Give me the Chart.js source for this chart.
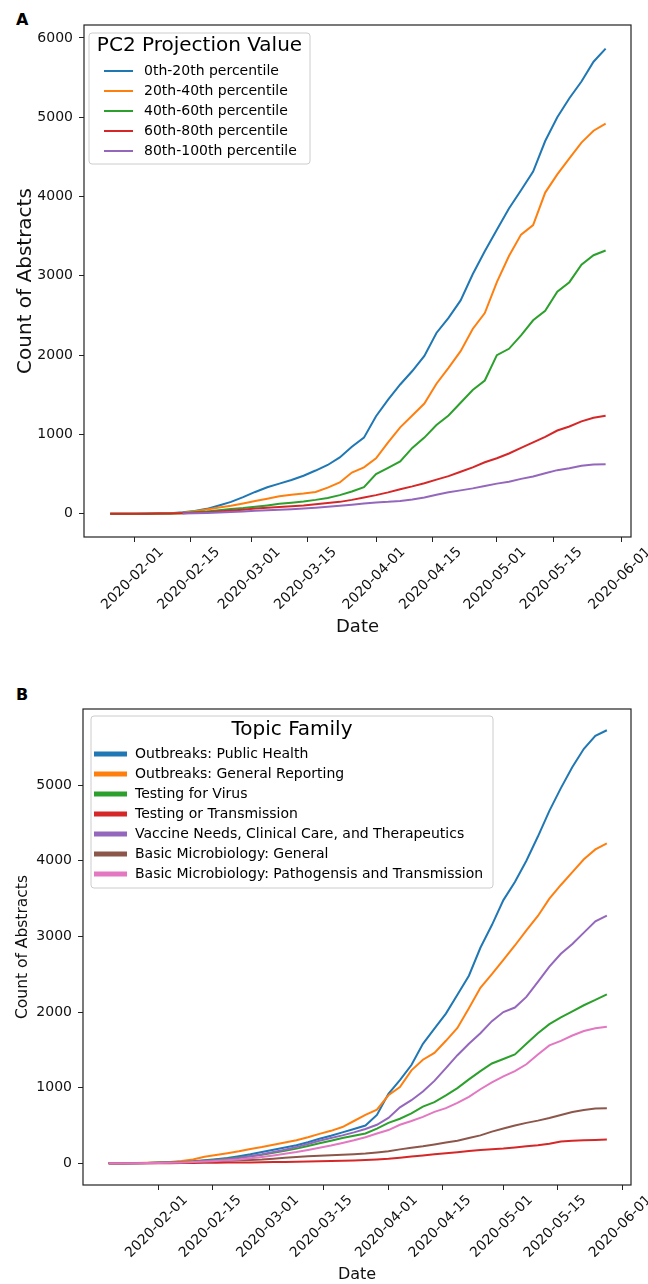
<!DOCTYPE html>
<html>
<head>
<meta charset="utf-8">
<script src="https://cdn.jsdelivr.net/npm/chart.js@4.4.0/dist/chart.umd.min.js"></script>
<style>
  body { margin: 0; background: #fff; font-family: "DejaVu Sans", sans-serif; }
  #wrap { position: relative; width: 648px; height: 1284px; }
  canvas { position: absolute; left: 0; }
  #chartA { top: 0; }
  #chartB { top: 650px; }
  .panel { position: absolute; font-weight: bold; font-size: 16px; color: #000; }
</style>
</head>
<body>
<div id="wrap">
  <div class="panel" style="left:16px; top:10px;">A</div>
  <div class="panel" style="left:16px; top:685px;">B</div>
  <canvas id="chartA" width="648" height="650"></canvas>
  <canvas id="chartB" width="648" height="634"></canvas>
</div>
<script>
// day numbers counted from 2020-01-01 (= 0)
const tickLabels = ['2020-02-01', '2020-02-15', '2020-03-01', '2020-03-15', '2020-04-01',
  '2020-04-15', '2020-05-01', '2020-05-15', '2020-06-01'];
const yTicksA = [0, 1000, 2000, 3000, 4000, 5000, 6000];
const yTicksB = [0, 1000, 2000, 3000, 4000, 5000];

// Panel A: PC2 projection value groups
const legendTitleA = 'PC2 Projection Value';
const labelsA = ['0th-20th percentile', '20th-40th percentile', '40th-60th percentile',
  '60th-80th percentile', '80th-100th percentile'];
const daysA = [25, 28, 31, 34, 37, 40, 43, 46, 49, 52, 55, 58, 61, 64, 67, 70, 73, 76, 79, 82, 85,
  88, 91, 94, 97, 100, 103, 106, 109, 112, 115, 118, 121, 124, 127, 130, 133, 136, 139, 142, 145, 148];
const p0to20 = [0, 0, 0, 2, 4, 8, 18, 35, 62, 105, 150, 210, 275, 335, 380, 425, 480, 545, 615, 710, 845,
  960, 1230, 1440, 1630, 1800, 1990, 2280, 2470, 2690, 3020, 3310, 3580, 3850, 4080, 4315, 4700, 5000, 5240, 5450, 5700, 5865];
const p20to40 = [0, 0, 0, 1, 3, 6, 14, 32, 55, 78, 100, 130, 160, 190, 220, 240, 255, 275, 330, 395, 520,
  585, 700, 900, 1090, 1240, 1390, 1640, 1840, 2050, 2330, 2530, 2920, 3250, 3520, 3640, 4050, 4280, 4480, 4680, 4830, 4920];
const p40to60 = [0, 0, 0, 1, 2, 4, 8, 18, 28, 45, 60, 72, 88, 105, 125, 140, 155, 175, 200, 235, 280,
  335, 500, 580, 660, 830, 960, 1120, 1240, 1400, 1560, 1680, 2000, 2080, 2250, 2440, 2560, 2800, 2920, 3140, 3260, 3320];
const p60to80 = [0, 0, 0, 1, 2, 4, 8, 14, 20, 30, 40, 52, 65, 76, 86, 95, 105, 120, 135, 150, 175,
  205, 235, 270, 310, 345, 385, 430, 475, 530, 585, 650, 700, 760, 830, 900, 970, 1050, 1100, 1165, 1210, 1235];
const p80to100 = [null, null, null, null, null, null, 2, 5, 9, 15, 22, 28, 38, 45, 52, 58, 65, 75, 88, 100, 115,
  130, 142, 150, 162, 180, 205, 240, 270, 295, 320, 350, 380, 405, 440, 470, 510, 550, 575, 605, 620, 625];

// Panel B: topic families
const legendTitleB = 'Topic Family';
const labelsB = ['Outbreaks: Public Health', 'Outbreaks: General Reporting', 'Testing for Virus',
  'Testing or Transmission', 'Vaccine Needs, Clinical Care, and Therapeutics',
  'Basic Microbiology: General', 'Basic Microbiology: Pathogensis and Transmission'];
const daysB = [18, 22, 25, 28, 31, 34, 37, 40, 43, 46, 49, 52, 55, 58, 61, 64, 67, 70, 73, 76, 79, 82,
  85, 88, 91, 94, 97, 100, 103, 106, 109, 112, 115, 118, 121, 124, 127, 130, 133, 136, 139, 142, 145, 148];
const publicHealth = [0, 2, 4, 6, 10, 14, 20, 28, 40, 55, 72, 95, 120, 150, 180, 210, 240, 280, 325, 365, 410, 455,
  500, 640, 920, 1100, 1300, 1580, 1780, 1980, 2230, 2480, 2850, 3150, 3480, 3720, 4000, 4320, 4660, 4960, 5240, 5480, 5650, 5725];
const generalReporting = [0, 2, 5, 8, 12, 18, 30, 50, 88, 110, 135, 160, 190, 215, 245, 275, 305, 345, 390, 430, 480, 560,
  640, 710, 900, 1010, 1230, 1370, 1460, 1620, 1790, 2050, 2320, 2500, 2690, 2880, 3080, 3270, 3500, 3680, 3850, 4020, 4150, 4230];
const testingVirus = [0, 1, 3, 5, 8, 12, 18, 26, 36, 48, 62, 78, 95, 115, 140, 165, 195, 230, 265, 300, 335, 365,
  395, 460, 535, 590, 660, 750, 810, 900, 995, 1110, 1220, 1320, 1380, 1440, 1580, 1720, 1840, 1930, 2010, 2090, 2160, 2235];
const testingTransmission = [0, 0, 1, 1, 2, 3, 4, 5, 7, 8, 10, 11, 13, 15, 17, 19, 21, 24, 27, 30, 34, 38,
  45, 52, 60, 75, 90, 105, 120, 135, 148, 162, 178, 188, 195, 210, 225, 240, 260, 290, 298, 305, 310, 315];
const vaccineCare = [0, 1, 3, 5, 8, 12, 16, 22, 30, 42, 55, 72, 95, 120, 150, 180, 215, 255, 300, 335, 370, 410,
  455, 510, 600, 740, 835, 950, 1090, 1260, 1430, 1580, 1720, 1880, 2000, 2060, 2200, 2400, 2600, 2770, 2900, 3050, 3200, 3275];
const microGeneral = [0, 1, 2, 3, 5, 8, 12, 17, 22, 28, 34, 40, 46, 52, 62, 74, 85, 93, 100, 107, 115, 122,
  130, 145, 160, 185, 205, 225, 250, 275, 300, 335, 370, 420, 460, 500, 535, 565, 600, 640, 680, 705, 725, 730];
const microPathogenesis = [0, 1, 2, 4, 6, 9, 13, 18, 24, 32, 42, 52, 68, 85, 105, 128, 150, 178, 205, 235, 270, 305,
  345, 395, 440, 510, 560, 615, 680, 730, 800, 880, 980, 1070, 1150, 1220, 1310, 1440, 1560, 1620, 1690, 1750, 1785, 1805];

const tab10 = ['#1f77b4', '#ff7f0e', '#2ca02c', '#d62728', '#9467bd', '#8c564b', '#e377c2'];
const FONT = '"DejaVu Sans", sans-serif';

function dayOf(label) {
  const [y, m, d] = label.split('-').map(Number);
  return (Date.UTC(y, m - 1, d) - Date.UTC(2020, 0, 1)) / 86400000;
}
const tickDays = tickLabels.map(dayOf);

// legend drawn by hand so it gets the framed matplotlib look
const legendBox = {
  id: 'legendBox',
  afterDatasetsDraw(chart, args, o) {
    const ctx = chart.ctx;
    ctx.save();
    ctx.beginPath();
    ctx.roundRect(o.x, o.y, o.w, o.h, 3);
    ctx.fillStyle = 'rgba(255,255,255,0.8)';
    ctx.fill();
    ctx.strokeStyle = '#cccccc';
    ctx.lineWidth = 1;
    ctx.stroke();
    ctx.fillStyle = '#000';
    ctx.textBaseline = 'middle';
    ctx.textAlign = 'center';
    ctx.font = o.titleSize + 'px ' + FONT;
    ctx.fillText(o.title, o.x + o.w / 2, o.titleY);
    ctx.textAlign = 'left';
    ctx.font = o.itemSize + 'px ' + FONT;
    chart.data.datasets.forEach((ds, i) => {
      const y = o.firstY + i * o.gap;
      ctx.strokeStyle = ds.borderColor;
      ctx.lineWidth = o.handleWidth;
      ctx.beginPath();
      ctx.moveTo(o.lineX0, y);
      ctx.lineTo(o.lineX1, y);
      ctx.stroke();
      ctx.fillText(ds.label, o.textX, y);
    });
    ctx.restore();
  }
};

const frame = {
  id: 'frame',
  afterDraw(chart) {
    const { left, top, width, height } = chart.chartArea;
    const ctx = chart.ctx;
    ctx.save();
    ctx.strokeStyle = '#222';
    ctx.lineWidth = 1.2;
    ctx.strokeRect(left, top, width, height);
    ctx.restore();
  }
};

function makeChart(id, p) {
  const datasets = p.series.map((vals, i) => ({
    label: p.labels[i],
    data: p.days.map((d, j) => ({ x: d, y: vals[j] })),
    borderColor: tab10[i],
    borderWidth: 2,
    pointRadius: 0,
    tension: 0,
    fill: false,
    order: -i
  }));
  return new Chart(document.getElementById(id), {
    type: 'line',
    data: { datasets },
    options: {
      responsive: false,
      animation: false,
      layout: { padding: p.padding },
      plugins: { legend: { display: false }, tooltip: { enabled: false }, legendBox: p.legend },
      scales: {
        x: {
          type: 'linear',
          min: p.xMin,
          max: p.xMax,
          afterBuildTicks: (axis) => { axis.ticks = tickDays.map(v => ({ value: v })); },
          afterFit: (s) => { s.height = p.xAxisHeight; },
          grid: { drawOnChartArea: false, drawTicks: true, tickLength: 5, color: '#222' },
          border: { display: false },
          ticks: {
            minRotation: 45, maxRotation: 45, autoSkip: false,
            labelOffset: p.labelOffset, padding: 2,
            color: '#111', font: { family: FONT, size: p.tickSize },
            callback: (v) => tickLabels[tickDays.indexOf(v)]
          },
          title: { display: true, text: 'Date', color: '#111',
            font: { family: FONT, size: p.xTitleSize }, padding: { top: 0, bottom: p.xTitlePad } }
        },
        y: {
          min: p.yMin,
          max: p.yMax,
          afterBuildTicks: (axis) => { axis.ticks = p.yTicks.map(v => ({ value: v })); },
          afterFit: (s) => { s.width = p.yAxisWidth; },
          grid: { drawOnChartArea: false, drawTicks: true, tickLength: 5, color: '#222' },
          border: { display: false },
          ticks: { padding: 6, color: '#111', font: { family: FONT, size: p.tickSize },
            callback: (v) => String(v) },
          title: { display: true, text: 'Count of Abstracts', color: '#111',
            font: { family: FONT, size: p.yTitleSize }, padding: { top: p.yTitlePad, bottom: 0 } }
        }
      }
    },
    plugins: [legendBox, frame]
  });
}

makeChart('chartA', {
  days: daysA,
  series: [p0to20, p20to40, p40to60, p60to80, p80to100],
  labels: labelsA,
  xMin: 18.5, xMax: 154.3, yMin: -293, yMax: 6163, yTicks: yTicksA,
  padding: { left: 0, right: 17, top: 25, bottom: 0 },
  yAxisWidth: 84, xAxisHeight: 113,
  tickSize: 14, labelOffset: 27, xTitleSize: 18, xTitlePad: 12, yTitleSize: 20, yTitlePad: 14,
  legend: { x: 89, y: 33, w: 221, h: 131, title: legendTitleA, titleSize: 20, titleY: 46,
    itemSize: 14, firstY: 71, gap: 20, lineX0: 104, lineX1: 133, textX: 144, handleWidth: 2 }
});

makeChart('chartB', {
  days: daysB,
  series: [publicHealth, generalReporting, testingVirus, testingTransmission, vaccineCare, microGeneral, microPathogenesis],
  labels: labelsB,
  xMin: 11.3, xMax: 154.3, yMin: -286, yMax: 6006, yTicks: yTicksB,
  padding: { left: 0, right: 17, top: 59, bottom: 0 },
  yAxisWidth: 83, xAxisHeight: 99,
  tickSize: 14, labelOffset: 27, xTitleSize: 16, xTitlePad: 0, yTitleSize: 15.5, yTitlePad: 14,
  legend: { x: 91, y: 66, w: 402, h: 172, title: legendTitleB, titleSize: 20, titleY: 80,
    itemSize: 14, firstY: 104, gap: 20, lineX0: 94, lineX1: 127, textX: 135, handleWidth: 5 }
});
</script>
</body>
</html>
